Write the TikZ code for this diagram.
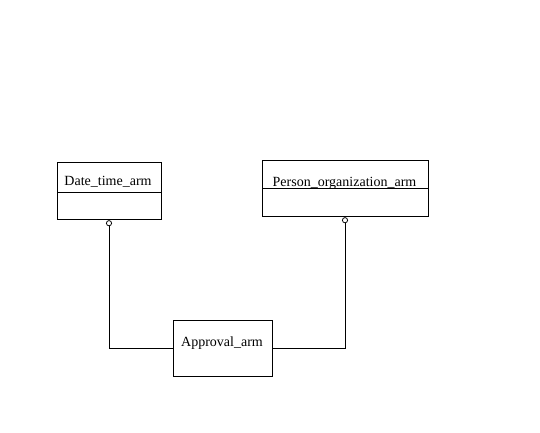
\documentclass[tikz,border=0pt]{standalone}
\usepackage{fontspec}
\setmainfont{Liberation Serif}
\usetikzlibrary{positioning,arrows.meta}
\begin{document}
\begin{tikzpicture}[x=1pt,y=-1pt,
    classbox/.style={draw=black, line width=0.8pt, inner sep=0pt},
    classname/.style={anchor=base, inner sep=0pt, font=\fontsize{14pt}{16pt}\selectfont},
    assoc/.style={draw=black, line width=0.8pt, {Circle[open,length=6pt,width=6pt]}-}]
        %% page size is fixed here so the margins stay as in the picture
        \useasboundingbox (0,0) rectangle (540,432);
        %% Date_time_arm box, a head part and an empty body part under it
        \node[classbox, minimum width=104pt, minimum height=30pt] (datehead) at (109,177) {};
        \node[classbox, minimum width=104pt, minimum height=27pt, below=0pt of datehead] (datebody) {};
        \node[classname] (datename) at (108,185.5) {Date\_time\_arm};
        %% Person_organization_arm box
        \node[classbox, minimum width=166pt, minimum height=28pt] (personhead) at (345,174) {};
        \node[classbox, minimum width=166pt, minimum height=28pt, below=0pt of personhead] (personbody) {};
        \node[classname] (personname) at (344.5,186) {Person\_organization\_arm};
        %% Approval_arm box
        \node[classbox, minimum width=99pt, minimum height=56pt] (approval) at (222.5,348) {};
        \node[classname] (approvalname) at (222,346) {Approval\_arm};
        %% the two links, with the small circle at the upper end
        \draw[assoc] (datebody.south) |- (approval.west);
        \draw[assoc] (personbody.south) |- (approval.east);
    \end{tikzpicture}
\end{document}
